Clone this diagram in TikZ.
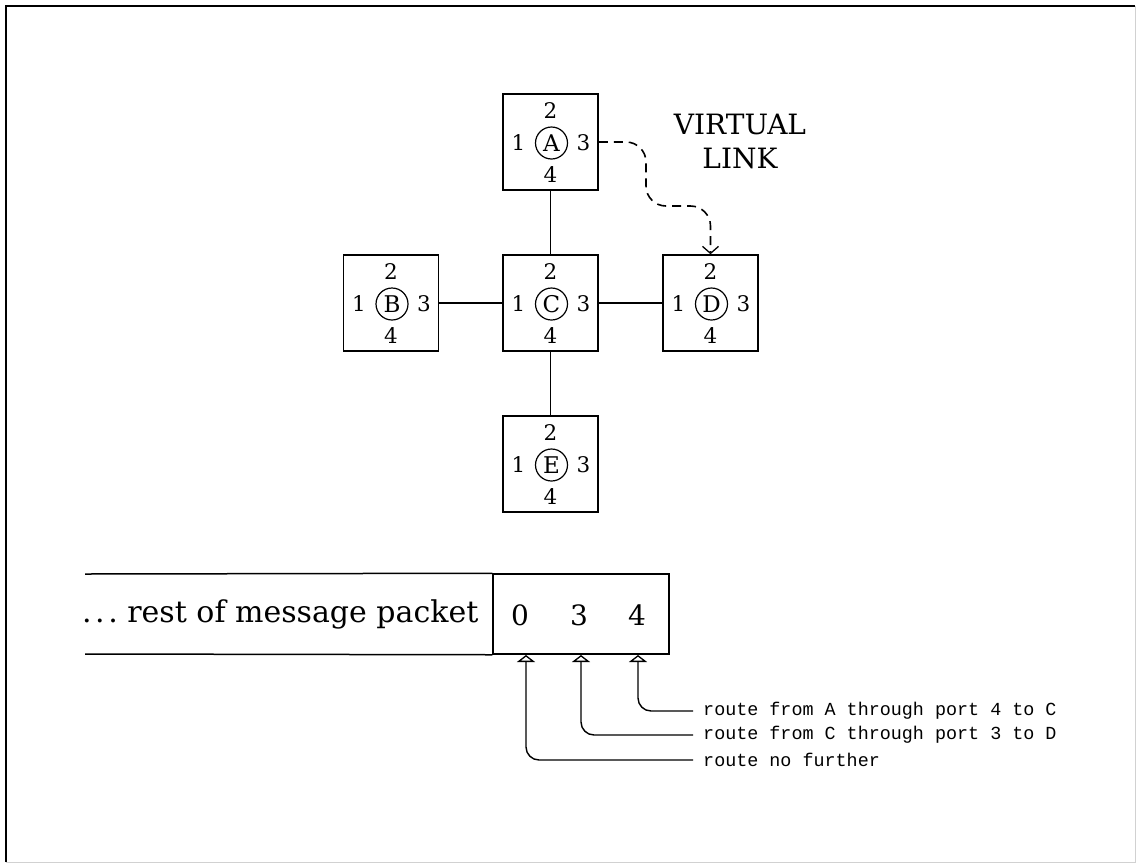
\documentclass[tikz,border=0pt]{standalone}
\usepackage{fontspec}
\setmainfont{DejaVu Serif}
\setmonofont{Liberation Mono}
\usetikzlibrary{arrows.meta}
\begin{document}
\begin{tikzpicture}[x=1pt,y=-1pt,
  nbox/.style={draw, line width=1.5pt, minimum width=95pt, minimum height=96pt, inner sep=0pt},
  port/.style={inner sep=0pt, font=\fontsize{21.5}{21.5}\selectfont},
  hub/.style={draw, circle, line width=1.2pt, minimum size=32pt, inner sep=0pt, font=\fontsize{23}{23}\selectfont},
  link/.style={line width=1.5pt},
  vlink/.style={line width=1.6pt, dash pattern=on 9pt off 6pt, rounded corners=20pt,
    -{Straight Barb[length=7pt,width=16pt,line width=1.3pt]}},
  big/.style={inner sep=0pt, font=\fontsize{28}{34}\selectfont, align=center},
  pkttext/.style={inner sep=0pt, font=\fontsize{30}{30}\selectfont},
  pkt/.style={line width=1.5pt},
  cell/.style={draw, line width=1.5pt, minimum width=176pt, minimum height=80pt, inner sep=0pt},
  digit/.style={inner sep=0pt, font=\fontsize{28}{28}\selectfont},
  note/.style={inner xsep=10pt, inner ysep=0pt, font=\ttfamily\fontsize{18.4}{18.4}\selectfont},
  ptr/.style={line width=1.4pt, rounded corners=13pt,
    -{Triangle[open, width=18pt, length=7pt, line width=1.3pt]}}
]
\useasboundingbox (0,0) rectangle (1139,865);
% frame
\draw[line width=1.8pt] (6,862) -- (6,6) -- (1135,6);
\draw[line width=0.8pt, black!18] (1135,6) -- (1135,862) -- (6,862);

\newcommand\routerbox[4]{%
  \node[nbox] (#1) at (#2,#3) {};
  \node[port] (#1-2) at (#2,#3-31) {2};
  \node[port] (#1-1) at (#2-32,#3+1) {1};
  \node[port] (#1-3) at (#2+33,#3+1) {3};
  \node[port] (#1-4) at (#2,#3+33) {4};
  \node[hub] (#1-c) at (#2+1,#3+1) {#4};
}
\routerbox{A}{550.5}{142}{A}
\routerbox{B}{391}{303}{B}
\routerbox{C}{550.5}{303}{C}
\routerbox{D}{710.5}{303}{D}
\routerbox{E}{550.5}{464}{E}

\draw[link] (A.south) -- (C.north);
\draw[link] (C.south) -- (E.north);
\draw[link] (B.east) -- (C.west);
\draw[link] (C.east) -- (D.west);

\coordinate (v0) at (646,142);
\coordinate (v1) at (646,206);
\draw[vlink] (A.east) -- (v0) -- (v1) -- (v1 -| D.north) -- (D.north);

\node[big] (vl) at (740,141) {VIRTUAL\\LINK};

% packet
\node[cell] (hdr) at (581,614) {};
\coordinate (ptop) at (85,574);
\coordinate (pbot) at (85,654);
\draw[pkt] (ptop) -- (hdr.north west);
\draw[pkt] (pbot) -- (hdr.south west);
\node[pkttext, anchor=west] (rest) at (82,614) {.\kern3.5pt.\kern3.5pt.\ rest of message packet};
\node[digit] (d0) at (520,615) {0};
\node[digit] (d3) at (579,615) {3};
\node[digit] (d4) at (637,615) {4};

\coordinate (t0) at (526,655);
\coordinate (t3) at (581,655);
\coordinate (t4) at (638,655);

\node[note, anchor=west] (n4) at (693,711) {route from A through port 4 to C};
\node[note, anchor=west] (n3) at (693,735) {route from C through port 3 to D};
\node[note, anchor=west] (n0) at (693,760) {route no further};

\draw[ptr] (n4.west) -| (t4);
\draw[ptr] (n3.west) -| (t3);
\draw[ptr] (n0.west) -| (t0);
\end{tikzpicture}
\end{document}
